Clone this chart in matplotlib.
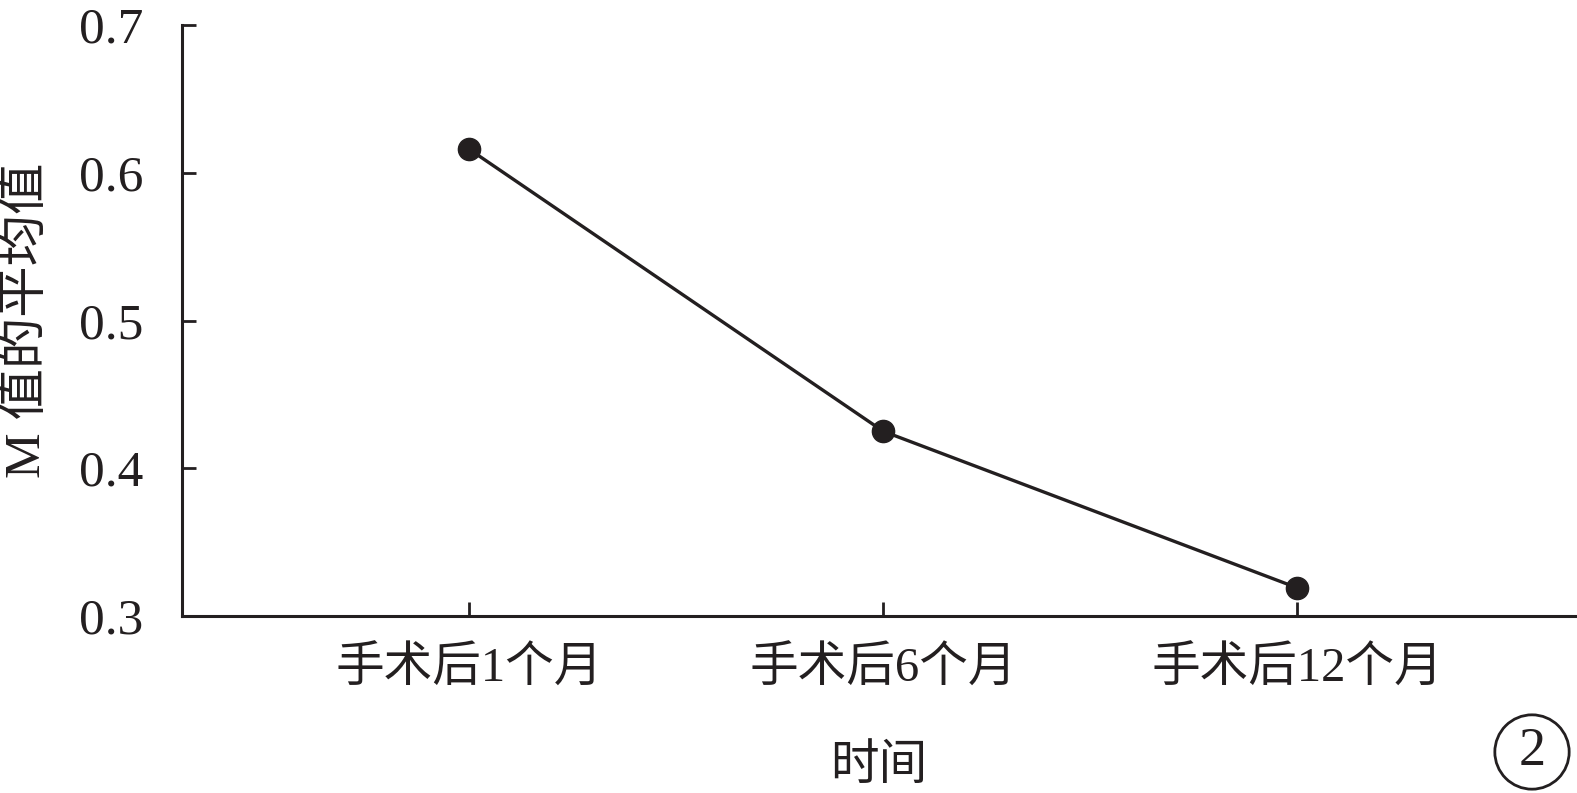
import matplotlib
matplotlib.use("Agg")
import matplotlib.pyplot as plt

plt.rcParams['font.family'] = ['Liberation Serif', 'Noto Sans CJK SC']

# data
categories = ["手术后1个月", "手术后6个月", "手术后12个月"]
m_mean = [0.616, 0.425, 0.319]
yticks = [0.3, 0.4, 0.5, 0.6, 0.7]

ink = "#231f20"

fig = plt.figure(figsize=(15.77, 7.93), dpi=100)
ax = fig.add_axes([182 / 1577, 1 - 616 / 793, (1575 - 182) / 1577, (616 - 25) / 793])

x = list(range(len(categories)))
ax.plot(x, m_mean, color=ink, lw=2.4, marker="o", ms=16, mfc=ink, mec=ink)

ax.set_xlim(-0.693, 2.67)
ax.set_ylim(0.3, 0.7)
ax.set_xticks(x)
ax.set_xticklabels(categories)
ax.set_yticks(yticks)
ax.set_yticklabels([f"{v:.1f}" for v in yticks])

for s in ["top", "right"]:
    ax.spines[s].set_visible(False)
for s in ["left", "bottom"]:
    ax.spines[s].set_linewidth(2.2)
    ax.spines[s].set_color(ink)

ax.tick_params(axis="both", direction="in", length=10, width=2.0, color=ink,
               labelsize=37, labelcolor=ink)
ax.tick_params(axis="x", labelsize=35, pad=22)
ax.tick_params(axis="y", pad=28)

ax.set_xlabel("时间", fontsize=35, color=ink, labelpad=38)
ax.set_ylabel("M 值的平均值", fontsize=37, color=ink, labelpad=20)

# circled panel number
fig.text(1532 / 1577, 1 - 752 / 793, "2", fontsize=39, color=ink,
         ha="center", va="center",
         bbox=dict(boxstyle="circle,pad=0.22", fc="white", ec=ink, lw=2))

fig.savefig("out.png", dpi=100)
